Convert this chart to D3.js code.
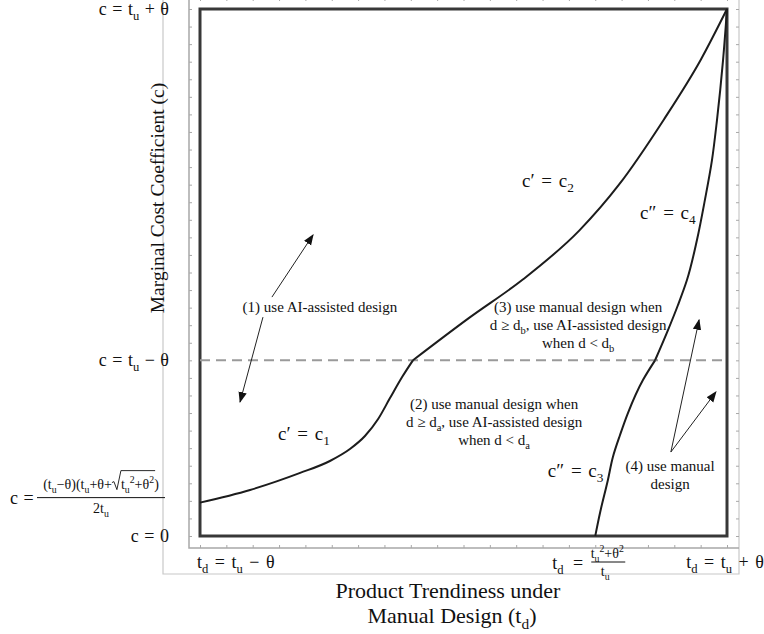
<!DOCTYPE html>
<html lang="en">
<head>
<meta charset="UTF-8">
<script src="https://cdn.jsdelivr.net/npm/d3@7/dist/d3.min.js"></script>
<title>Design regions</title>
<style>
  body { margin: 0; background: #fff; }
  text { font-family: 'Liberation Serif', 'DejaVu Serif', serif; fill: #111; }
</style>
</head>
<body>
<svg id="mainsvg" width="764" height="634"></svg>
<script>
  // domain: t_d from t_u - θ to t_u + θ, c from 0 to t_u + θ  (t_u = 20, θ = 10)
  const tdRange = [10, 30]
  const cRange = [0, 30]
  const dashedC = 10
  const c1Points = [[10, 1.9], [11.9, 2.62], [13.8, 3.59], [14.93, 4.27], [15.69, 4.95], [16.26, 5.69],
    [16.76, 6.66], [17.21, 7.85], [17.67, 9.05], [18.08, 10]]
  const c2Points = [[18.08, 10], [20.2, 12.4], [22.25, 14.6], [24.4, 17.4], [25.9, 20], [27.6, 23.7], [29, 27.1], [30, 30]]
  const c3Points = [[25, 0], [25.18, 1.31], [25.48, 3.19], [25.67, 4.5], [25.94, 5.75], [26.24, 7], [26.81, 8.88], [27.27, 10]]
  const c4Points = [[27.27, 10], [27.76, 11.72], [28.14, 13.15], [28.48, 14.57], [28.86, 16.85], [29.16, 19.12],
    [29.43, 21.4], [29.62, 23.68], [29.85, 27.09], [30, 30]]

  const yTickValues = [30, 10, 0]
  const yTickText = ['c = t_u + θ', 'c = t_u − θ', 'c = 0']
  const xTickValues = [10, 30]
  const xTickText = ['t_d = t_u − θ', 't_d = t_u + θ']

  const curveLabels = [
    { x: 12.96, y: 5.46, text: 'c′ = c_1' },
    { x: 22.22, y: 19.86, text: 'c′ = c_2' },
    { x: 26.7, y: 18.04, text: 'c″ = c_4' },
    { x: 23.2, y: 3.36, text: 'c″ = c_3' }
  ]
  const regionLabels = [
    { x: 14.55, y: 12.75, lines: ['(1) use AI-assisted design'] },
    { x: 24.35, y: 12.75, lines: ['(3) use manual design when', 'd ≥ d_b, use AI-assisted design', 'when d < d_b'] },
    { x: 21.16, y: 7.23, lines: ['(2) use manual design when', 'd ≥ d_a, use AI-assisted design', 'when d < d_a'] },
    { x: 27.84, y: 3.7, lines: ['(4) use manual', 'design'] }
  ]
  const arrows = [
    { from: [12.73, 13.6], to: [14.29, 17.14] },
    { from: [12.39, 12.46], to: [11.52, 7.63] },
    { from: [27.87, 4.78], to: [28.94, 12.3] },
    { from: [27.87, 4.78], to: [29.58, 8.2] }
  ]

  const svg = d3.select('#mainsvg')
  const x = d3.scaleLinear().domain(tdRange).range([200, 727])
  const y = d3.scaleLinear().domain(cRange).range([536, 9])

  // turns "t_u^2" into text with sub/superscripts
  function addMath(textSel, str, size) {
    const pieces = []
    for (let i = 0; i < str.length; i++) {
      const ch = str[i]
      if ((ch === '_' || ch === '^') && i + 1 < str.length) {
        pieces.push({ t: str[i + 1], off: ch === '_' ? 0.28 : -0.4 })
        i++
      } else if (pieces.length && pieces[pieces.length - 1].off === 0) {
        pieces[pieces.length - 1].t += ch
      } else {
        pieces.push({ t: ch, off: 0 })
      }
    }
    let cur = 0
    pieces.forEach(p => {
      textSel.append('tspan')
        .attr('dy', (p.off - cur) * size)
        .attr('font-size', p.off === 0 ? size : size * 0.7)
        .text(p.t)
      cur = p.off
    })
    return textSel
  }

  // outer frame + gray axes
  const pLeft = x(tdRange[0]), pRight = x(tdRange[1]), pTop = y(cRange[1]), pBottom = y(cRange[0])
  svg.append('path')
    .attr('d', `M${pLeft - 37},-2V${pBottom + 38}H${pRight + 12}V-2`)
    .attr('fill', 'none').attr('stroke', '#c8c8c8').attr('stroke-width', 1.2)
  const axisColor = '#a8a8a8'
  svg.append('path')
    .attr('d', `M${pLeft - 11},-2V${pBottom + 12}H${pRight + 12}`)
    .attr('fill', 'none').attr('stroke', axisColor).attr('stroke-width', 1.5)

  const yTicks = d3.range(cRange[0], cRange[1] + 1)
  const xTicks = d3.range(tdRange[0], tdRange[1] + 1)
  const tickAxes = [
    { axis: d3.axisRight(y).tickValues(yTicks), tr: `translate(${pLeft - 11},0)` },
    { axis: d3.axisLeft(y).tickValues(yTicks), tr: `translate(${pRight + 12},0)` },
    { axis: d3.axisTop(x).tickValues(xTicks), tr: `translate(0,${pBottom + 12})` },
    { axis: d3.axisBottom(x).tickValues(xTicks), tr: `translate(0,-2)` }
  ]
  tickAxes.forEach(a => {
    const g = svg.append('g').attr('transform', a.tr)
      .call(a.axis.tickSize(3).tickSizeOuter(0).tickFormat(''))
    g.select('.domain').remove()
    g.selectAll('.tick line').attr('stroke', axisColor).attr('stroke-width', 1)
  })

  // plot box
  svg.append('rect')
    .attr('x', pLeft).attr('y', pTop)
    .attr('width', pRight - pLeft).attr('height', pBottom - pTop)
    .attr('fill', 'none').attr('stroke', '#383838').attr('stroke-width', 3)

  // dashed c = t_u - θ
  svg.append('line')
    .attr('x1', pLeft).attr('x2', pRight)
    .attr('y1', y(dashedC)).attr('y2', y(dashedC))
    .attr('stroke', '#9a9a9a').attr('stroke-width', 2).attr('stroke-dasharray', '10,6')

  const alongX = d3.line().x(d => x(d[0])).y(d => y(d[1])).curve(d3.curveMonotoneX)
  const alongY = d3.line().x(d => x(d[0])).y(d => y(d[1])).curve(d3.curveMonotoneY)
  ;[[c1Points, alongX], [c2Points, alongX], [c3Points, alongY], [c4Points, alongY]].forEach(([pts, gen]) => {
    svg.append('path').attr('d', gen(pts))
      .attr('fill', 'none').attr('stroke', '#1c1c1c').attr('stroke-width', 2)
  })

  // arrows
  svg.append('defs').append('marker')
    .attr('id', 'head').attr('viewBox', '0 0 10 10')
    .attr('refX', 9).attr('refY', 5)
    .attr('markerWidth', 11).attr('markerHeight', 11)
    .attr('markerUnits', 'userSpaceOnUse')
    .attr('orient', 'auto')
    .append('path').attr('d', 'M0,1.2L10,5L0,8.8Z').attr('fill', '#111')
  arrows.forEach(a => {
    svg.append('line')
      .attr('x1', x(a.from[0])).attr('y1', y(a.from[1]))
      .attr('x2', x(a.to[0])).attr('y2', y(a.to[1]))
      .attr('stroke', '#222').attr('stroke-width', 1)
      .attr('marker-end', 'url(#head)')
  })

  // curve labels
  curveLabels.forEach(l => {
    addMath(svg.append('text').attr('x', x(l.x)).attr('y', y(l.y))
      .attr('font-size', 19).attr('word-spacing', 2), l.text, 19)
  })

  // region labels
  regionLabels.forEach(r => {
    r.lines.forEach((ln, i) => {
      addMath(svg.append('text')
        .attr('x', x(r.x)).attr('y', y(r.y) + i * 18)
        .attr('text-anchor', 'middle').attr('font-size', 15), ln, 15)
    })
  })

  // y tick labels
  yTickValues.forEach((v, i) => {
    addMath(svg.append('text')
      .attr('x', 169).attr('y', y(v) + 6)
      .attr('text-anchor', 'end').attr('font-size', 18).attr('word-spacing', 1), yTickText[i], 18)
  })

  // fraction label at the c1 intercept
  const fracY = y(c1Points[0][1]) - 5
  addMath(svg.append('text').attr('x', 10).attr('y', fracY + 6).attr('font-size', 18).attr('word-spacing', 1), 'c =', 18)
  const numG = svg.append('g')
  let cursor = 0
  const numSize = 14
  const numBase = fracY - 9
  function piece(str) {
    const t = addMath(numG.append('text').attr('x', cursor).attr('y', numBase).attr('font-size', numSize), str, numSize)
    const w = t.node().getComputedTextLength()
    const x0 = cursor
    cursor += w
    return [x0, cursor]
  }
  piece('(t_u−θ)(t_u+θ+')
  const radStart = cursor
  cursor += 9
  const rad = piece('t_u^2+θ^2')
  numG.append('path')
    .attr('d', `M${radStart},${numBase - 6}l2,-1l3,8l4,-19H${rad[1] + 1}`)
    .attr('fill', 'none').attr('stroke', '#111').attr('stroke-width', 0.9)
  piece(')')
  const numW = cursor
  numG.attr('transform', `translate(${101 - numW / 2},0)`)
  svg.append('line').attr('x1', 37).attr('x2', 165).attr('y1', fracY).attr('y2', fracY)
    .attr('stroke', '#111').attr('stroke-width', 1)
  addMath(svg.append('text').attr('x', 101).attr('y', fracY + 15)
    .attr('text-anchor', 'middle').attr('font-size', numSize), '2t_u', numSize)

  // x tick labels
  addMath(svg.append('text').attr('x', x(xTickValues[0]) - 3).attr('y', 568)
    .attr('font-size', 18).attr('word-spacing', 2), xTickText[0], 18)
  addMath(svg.append('text').attr('x', x(xTickValues[1]) - 2).attr('y', 568)
    .attr('text-anchor', 'middle').attr('font-size', 18).attr('word-spacing', 2), xTickText[1], 18)
  // t_d = (t_u^2+θ^2)/t_u at the c3 intercept
  const fx = x(c3Points[0][0])
  addMath(svg.append('text').attr('x', fx - 43).attr('y', 569)
    .attr('font-size', 18).attr('word-spacing', 5), 't_d =', 18)
  addMath(svg.append('text').attr('x', fx + 12).attr('y', 558)
    .attr('text-anchor', 'middle').attr('font-size', numSize), 't_u^2+θ^2', numSize)
  svg.append('line').attr('x1', fx - 4).attr('x2', fx + 30).attr('y1', 562).attr('y2', 562)
    .attr('stroke', '#111').attr('stroke-width', 1)
  addMath(svg.append('text').attr('x', fx + 10).attr('y', 576)
    .attr('text-anchor', 'middle').attr('font-size', numSize), 't_u', numSize)

  // axis titles
  svg.append('text')
    .attr('transform', `translate(164,198) rotate(-90)`)
    .attr('text-anchor', 'middle').attr('font-size', 19.5)
    .text('Marginal Cost Coefficient (c)')
  svg.append('text').attr('x', 448).attr('y', 598)
    .attr('text-anchor', 'middle').attr('font-size', 22)
    .text('Product Trendiness under')
  addMath(svg.append('text').attr('x', 452).attr('y', 623)
    .attr('text-anchor', 'middle').attr('font-size', 22), 'Manual Design (t_d)', 22)
</script>
</body>
</html>
